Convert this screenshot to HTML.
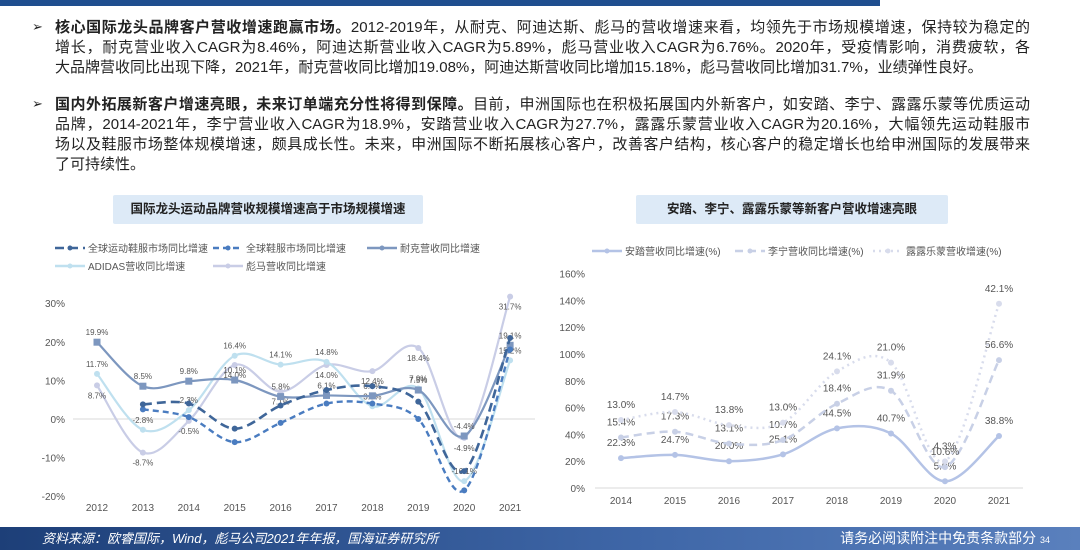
<!DOCTYPE html>
<html><head><meta charset="utf-8"><style>
body{margin:0;width:1080px;height:550px;background:#fff;position:relative;overflow:hidden;font-family:"Liberation Sans","Noto Sans CJK SC",sans-serif;}
.topbar{position:absolute;left:0;top:0;width:880px;height:6px;background:#1f4e8f;}
.para{position:absolute;left:55px;width:975px;font-size:15px;line-height:20px;color:#222;}
.ln{display:block;white-space:nowrap;text-align:justify;text-align-last:justify;height:20px;}
.ln.last{text-align-last:left;}
.bul{position:absolute;left:32px;font-size:13px;color:#222;}
.tbox{position:absolute;top:195px;height:29px;background:#ddeaf7;font-size:12.5px;font-weight:bold;color:#222;text-align:center;line-height:29px;border-radius:2px;}
.footer{position:absolute;left:0;top:527px;width:1080px;height:23px;background:linear-gradient(90deg,#1d3f78,#3f67a8 60%,#5a80bd);color:#fff;font-size:13px;line-height:23px;}
svg text{font-family:"Liberation Sans","Noto Sans CJK SC",sans-serif;}
</style></head><body>
<div class="topbar"></div>
<div class="bul" style="top:19px">➢</div>
<div class="para" style="top:18px"><span class="ln"><b>核心国际龙头品牌客户营收增速跑赢市场。</b>2012-2019年，从耐克、阿迪达斯、彪马的营收增速来看，均领先于市场规模增速，保持较为稳定的</span><span class="ln">增长，耐克营业收入CAGR为8.46%，阿迪达斯营业收入CAGR为5.89%，彪马营业收入CAGR为6.76%。2020年，受疫情影响，消费疲软，各</span><span class="ln last">大品牌营收同比出现下降，2021年，耐克营收同比增加19.08%，阿迪达斯营收同比增加15.18%，彪马营收同比增加31.7%，业绩弹性良好。</span></div>
<div class="bul" style="top:96px">➢</div>
<div class="para" style="top:95px"><span class="ln"><b>国内外拓展新客户增速亮眼，未来订单端充分性将得到保障。</b>目前，申洲国际也在积极拓展国内外新客户，如安踏、李宁、露露乐蒙等优质运动</span><span class="ln">品牌，2014-2021年，李宁营业收入CAGR为18.9%，安踏营业收入CAGR为27.7%，露露乐蒙营业收入CAGR为20.16%，大幅领先运动鞋服市</span><span class="ln">场以及鞋服市场整体规模增速，颇具成长性。未来，申洲国际不断拓展核心客户，改善客户结构，核心客户的稳定增长也给申洲国际的发展带来</span><span class="ln last">了可持续性。</span></div>
<div class="tbox" style="left:113px;width:310px">国际龙头运动品牌营收规模增速高于市场规模增速</div>
<div class="tbox" style="left:636px;width:312px">安踏、李宁、露露乐蒙等新客户营收增速亮眼</div>
<svg id="lc" width="1080" height="550" style="position:absolute;left:0;top:0"></svg>
<svg id="rc" width="1080" height="550" style="position:absolute;left:0;top:0"></svg>
<div class="footer"><span style="position:absolute;left:42px;font-style:italic">资料来源：欧睿国际，Wind，彪马公司2021年年报，国海证券研究所</span><span style="position:absolute;right:30px;font-size:14px">请务必阅读附注中免责条款部分 <span style="font-size:9px">34</span></span></div>
<script>
const leftYears=['2012','2013','2014','2015','2016','2017','2018','2019','2020','2021'];
const leftTicks=[30,20,10,0,-10,-20];
const globalSport=[null,3.8,4.0,-2.5,3.5,7.5,8.5,4.5,-13.5,21.0];
const globalApparel=[null,2.5,0.5,-6.0,-1.0,4.0,4.0,0.0,-18.5,18.0];
const nike=[19.9,8.5,9.8,10.1,5.8,6.1,6.0,7.5,-4.4,19.1];
const adidas=[11.7,-2.8,2.3,16.4,14.1,14.8,3.3,7.9,-16.1,15.2];
const puma=[8.7,-8.7,-0.5,14.0,7.1,14.0,12.4,18.4,-4.9,31.7];
const rightYears=['2014','2015','2016','2017','2018','2019','2020','2021'];
const rightTicks=[0,20,40,60,80,100,120,140,160];
const anta=[22.3,24.7,20.0,25.1,44.5,40.7,5.0,38.8];
const lining=[15.4,17.3,13.1,10.7,18.4,31.9,10.6,56.6];
const lulu=[13.0,14.7,13.8,13.0,24.1,21.0,4.3,42.1];
const NS='http://www.w3.org/2000/svg';
function mk(p,tag,at){const e=document.createElementNS(NS,tag);for(const k in at)e.setAttribute(k,at[k]);p.appendChild(e);return e;}
function spline(pts){let d='';for(let i=0;i<pts.length;i++){const p=pts[i];if(i===0){d='M'+p[0]+','+p[1];continue;}const p0=pts[i-2]||pts[i-1],p1=pts[i-1],p2=p,p3=pts[i+1]||p;const c1=[p1[0]+(p2[0]-p0[0])/6,p1[1]+(p2[1]-p0[1])/6],c2=[p2[0]-(p3[0]-p1[0])/6,p2[1]-(p3[1]-p1[1])/6];d+=' C'+c1+' '+c2+' '+p2;}return d;}
// LEFT
const L=document.getElementById('lc');
const lx=i=>97+i*45.9, ly=v=>419-v*3.86;
leftTicks.forEach(t=>{const e=mk(L,'text',{x:65,y:ly(t)+4,'text-anchor':'end','font-size':10,fill:'#555'});e.textContent=t+'%';

});
const zl=mk(L,'line',{x1:73,x2:535,y1:ly(0),y2:ly(0),stroke:'#d9d9d9'});


leftYears.forEach((y,i)=>{const e=mk(L,'text',{x:lx(i),y:511,'text-anchor':'middle','font-size':10,fill:'#555'});e.textContent=y;

});
const lser=[
{n:'puma',d:puma,c:'#c9cde6',w:2.2,da:'',m:'c',lab:'彪马营收同比增速',lx:213,ly:266,off:13},
{n:'adidas',d:adidas,c:'#bfe0ef',w:2.2,da:'',m:'c',lab:'ADIDAS营收同比增速',lx:55,ly:266,off:-7},
{n:'nike',d:nike,c:'#7d97bf',w:2.2,da:'',m:'s',lab:'耐克营收同比增速',lx:367,ly:248,off:-7},
{n:'global-apparel',d:globalApparel,c:'#4a7cc0',w:2.4,da:'6,4',m:'c',lab:'全球鞋服市场同比增速',lx:213,ly:248,off:null},
{n:'global-sport',d:globalSport,c:'#3f6699',w:2.6,da:'9,5',m:'c',lab:'全球运动鞋服市场同比增速',lx:55,ly:248,off:null}];
lser.forEach(s=>{const pts=[];s.d.forEach((v,i)=>{if(v!==null)pts.push([lx(i),ly(v)]);});
const p=mk(L,'path',{d:spline(pts),fill:'none',stroke:s.c,'stroke-width':s.w,'stroke-dasharray':s.da});


pts.forEach(q=>{const m=s.m==='s'?mk(L,'rect',{x:q[0]-3.5,y:q[1]-3.5,width:7,height:7,fill:s.c}):mk(L,'circle',{cx:q[0],cy:q[1],r:3,fill:s.c});

});
if(s.off!==null)s.d.forEach((v,i)=>{const t=mk(L,'text',{x:lx(i),y:ly(v)+s.off,'text-anchor':'middle','font-size':8,fill:'#555'});t.textContent=v.toFixed(1)+'%';

});
const g=mk(L,'g',{});


mk(g,'line',{x1:s.lx,x2:s.lx+30,y1:s.ly,y2:s.ly,stroke:s.c,'stroke-width':2.5,'stroke-dasharray':s.da});
mk(g,'circle',{cx:s.lx+15,cy:s.ly,r:2.5,fill:s.c});
const lt=mk(g,'text',{x:s.lx+33,y:s.ly+4,'font-size':10,fill:'#555'});lt.textContent=s.lab;});
// RIGHT
const R=document.getElementById('rc');
const rx=i=>621+i*54, ry=v=>488-v*1.34;
rightTicks.forEach(t=>{const e=mk(R,'text',{x:585,y:ry(t)+4,'text-anchor':'end','font-size':10,fill:'#555'});e.textContent=t+'%';

});
const bl=mk(R,'line',{x1:595,x2:1023,y1:ry(0),y2:ry(0),stroke:'#d9d9d9'});


rightYears.forEach((y,i)=>{const e=mk(R,'text',{x:rx(i),y:504,'text-anchor':'middle','font-size':10,fill:'#555'});e.textContent=y;

});
const base=anta.map(()=>0);
const rser=[{n:'anta',d:anta,c:'#b4c3e6',da:'',lab:'安踏营收同比增速(%)',lx:592},
{n:'lining',d:lining,c:'#c8d0e6',da:'8,5',lab:'李宁营收同比增速(%)',lx:735},
{n:'lulu',d:lulu,c:'#d8dcec',da:'2,4',lab:'露露乐蒙营收增速(%)',lx:873}];
rser.forEach(s=>{const pts=s.d.map((v,i)=>{base[i]+=v;return [rx(i),ry(base[i])];});
const p=mk(R,'path',{d:spline(pts),fill:'none',stroke:s.c,'stroke-width':2.5,'stroke-dasharray':s.da});


pts.forEach((q,i)=>{const c=mk(R,'circle',{cx:q[0],cy:q[1],r:3,fill:s.c});


const t=mk(R,'text',{x:q[0],y:q[1]-12,'text-anchor':'middle','font-size':10,fill:'#555'});t.textContent=s.d[i].toFixed(1)+'%';

});
const g=mk(R,'g',{});


mk(g,'line',{x1:s.lx,x2:s.lx+30,y1:251,y2:251,stroke:s.c,'stroke-width':2.5,'stroke-dasharray':s.da});
mk(g,'circle',{cx:s.lx+15,cy:251,r:2.5,fill:s.c});
const lt=mk(g,'text',{x:s.lx+33,y:255,'font-size':10,fill:'#555'});lt.textContent=s.lab;});
</script>
</body></html>
